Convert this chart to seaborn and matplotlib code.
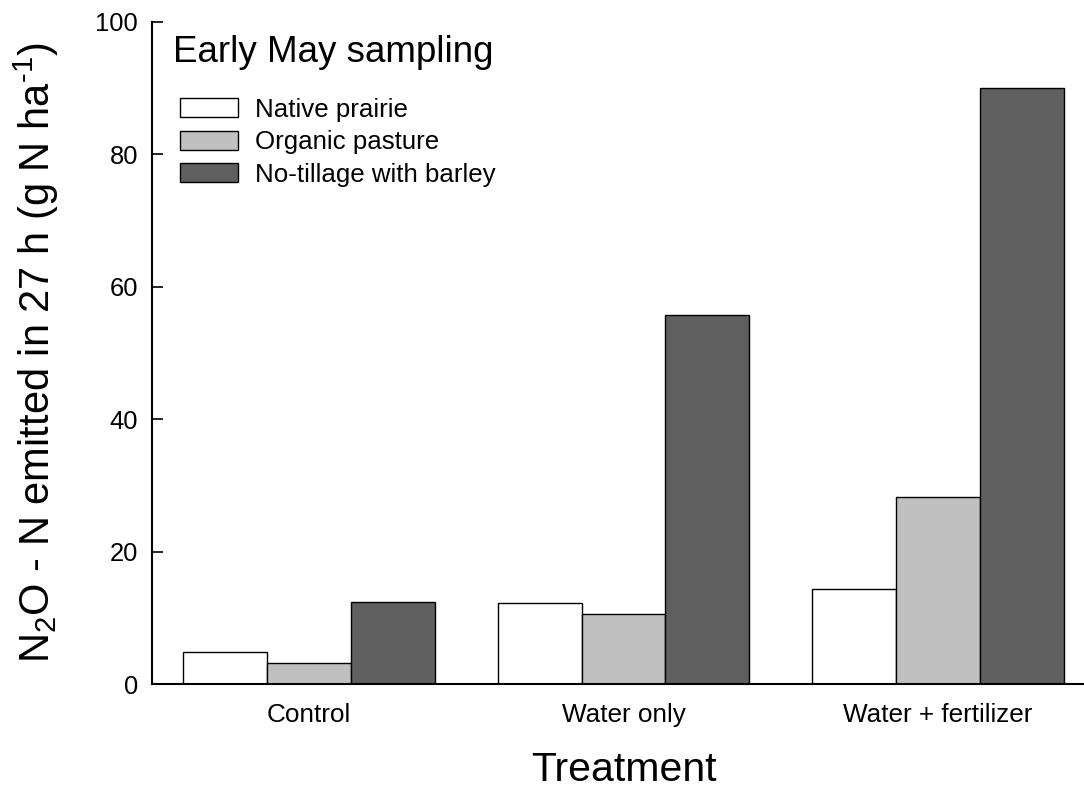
import matplotlib
matplotlib.use("Agg")
import matplotlib.pyplot as plt
import seaborn as sns
import pandas as pd
from matplotlib.patches import Patch

treatments = ["Control", "Water only", "Water + fertilizer"]
systems = ["Native prairie", "Organic pasture", "No-tillage with barley"]
native_prairie = [4.8, 12.2, 14.3]
organic_pasture = [3.1, 10.5, 28.3]
no_tillage_barley = [12.4, 55.8, 90.1]
colors = ["#ffffff", "#c0c0c0", "#5f5f5f"]

rows = []
for s, vals in zip(systems, [native_prairie, organic_pasture, no_tillage_barley]):
    for t, v in zip(treatments, vals):
        rows.append({"Treatment": t, "System": s, "value": v})
df = pd.DataFrame(rows)

sns.set_style("white")
plt.rcParams['font.family'] = ['Liberation Sans', 'DejaVu Sans']
plt.rcParams['mathtext.fontset'] = 'custom'
plt.rcParams['mathtext.rm'] = 'Liberation Sans'
plt.rcParams['mathtext.it'] = 'Liberation Sans'
for k in ['text.color', 'axes.labelcolor', 'xtick.color', 'ytick.color']:
    plt.rcParams[k] = 'black'

fig = plt.figure(figsize=(10.84, 7.90), dpi=100)
ax = fig.add_axes([152/1084, 1 - 684/790, (1084 - 152)/1084, (684 - 22)/790])

sns.barplot(data=df, x="Treatment", y="value", hue="System", order=treatments,
            hue_order=systems, palette=colors, edgecolor="black", linewidth=1.0,
            width=0.8, ax=ax, legend=False, errorbar=None, saturation=1)

ax.set_xlim(-0.5, 2.5 - 11/314.5)
ax.set_ylim(0, 100)
ax.set_yticks([0, 20, 40, 60, 80, 100])
ax.tick_params(axis='y', direction='in', length=8, width=1.2, labelsize=18.4, pad=10, left=True)
ax.tick_params(axis='x', length=0, labelsize=18.8, pad=14)
for side in ["top", "right"]:
    ax.spines[side].set_visible(False)
for side in ["left", "bottom"]:
    ax.spines[side].set_linewidth(1.5)
    ax.spines[side].set_color("black")

ax.set_xlabel("")
fig.text(624/1084, 1 - 781/790, "Treatment", fontsize=29.5, ha="center", va="baseline")
ax.set_ylabel(r"N$_2$O - N emitted in 27 h (g N ha$^{\text{-}1}$)", fontsize=30)
ax.yaxis.set_label_coords(-(152 - 61)/932, 0.5)

fig.text(173/1084, 1 - 52/790, "Early May sampling",
         fontsize=26.5, va="center", ha="left")

handles = [Patch(facecolor=c, edgecolor="black", linewidth=1.0) for c in colors]
ax.legend(handles, systems, loc="upper left", bbox_to_anchor=(172/1084, 1 - 90/790),
          bbox_transform=fig.transFigure, frameon=False, fontsize=18.6,
          handlelength=2.25, handleheight=0.75, handletextpad=0.65, labelspacing=0.33,
          borderpad=0.3, borderaxespad=0)

fig.savefig("out.png", dpi=100)
